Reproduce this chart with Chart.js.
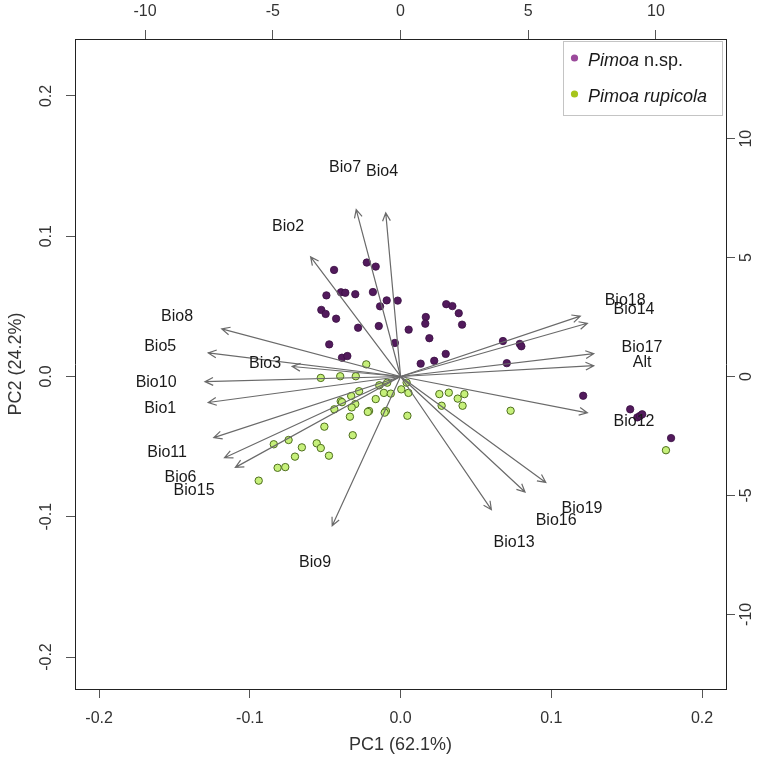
<!DOCTYPE html>
<html>
<head>
<meta charset="utf-8">
<script src="https://cdn.jsdelivr.net/npm/chart.js@4.4.1/dist/chart.umd.min.js"></script>
<style>
  html, body { margin: 0; padding: 0; background: #fff; }
  #wrap { width: 763px; height: 766px; }
</style>
</head>
<body>
<div id="wrap"><canvas id="biplot"></canvas></div>
<script>
// variable loadings (label positions, PC1 / PC2 scale)
const varNames = ['Bio7', 'Bio4', 'Bio2', 'Bio8', 'Bio5', 'Bio3', 'Bio10', 'Bio1', 'Bio11', 'Bio6', 'Bio15',
  'Bio9', 'Bio13', 'Bio16', 'Bio19', 'Bio12', 'Alt', 'Bio17', 'Bio14', 'Bio18'];
const loadX = [-0.0368, -0.0123, -0.0746, -0.1483, -0.1595, -0.0899, -0.1622, -0.1595, -0.1549, -0.1460, -0.1370,
  -0.0567, 0.0753, 0.1032, 0.1204, 0.1549, 0.1602, 0.1602, 0.1549, 0.1490];
const loadY = [0.1487, 0.1458, 0.1066, 0.0424, 0.0210, 0.0089, -0.0046, -0.0232, -0.0545, -0.0724, -0.0810,
  -0.1330, -0.1187, -0.1030, -0.0944, -0.0324, 0.0096, 0.0203, 0.0474, 0.0538];

// individual scores (top / right scale)
const nspX = [-2.60, -1.32, -0.97, -2.90, -2.33, -2.16, -1.77, -1.08, -0.54, -0.11, -0.80, -3.10, -2.93, -2.52,
  -1.66, -0.85, 0.32, 1.79, 2.03, 2.28, 2.41, 0.99, 0.97, 1.13, -0.22, -2.79, -2.29, -2.08, 0.79, 1.32, 1.77,
  4.01, 4.67, 4.73, 4.16, 7.15, 8.99, 9.27, 9.37, 9.46, 10.59];
const nspY = [4.48, 4.79, 4.62, 3.41, 3.54, 3.52, 3.46, 3.55, 3.20, 3.19, 2.95, 2.80, 2.63, 2.43,
  2.05, 2.12, 1.97, 3.04, 2.96, 2.66, 2.18, 2.50, 2.22, 1.61, 1.41, 1.35, 0.79, 0.86, 0.54, 0.66, 0.95,
  1.49, 1.37, 1.27, 0.56, -0.81, -1.38, -1.72, -1.66, -1.59, -2.59];
const rupX = [-1.34, -3.12, -2.36, -1.75, -0.83, -0.52, 0.24, -1.62, -1.93, -0.65, -0.38, 0.31, 0.03, 1.52, 1.89,
  2.50, 2.24, 1.61, 2.43, 4.31, -2.34, -2.29, -1.77, -1.91, -0.97, -2.59, -1.23, -1.28, -0.57, -0.62, -1.98,
  0.27, -2.98, -1.87, -4.96, -4.38, -3.86, -3.28, -3.12, -2.80, -4.13, -4.81, -4.51, -5.55, 10.39];
const rupY = [0.51, -0.06, 0.01, 0.01, -0.37, -0.26, -0.26, -0.62, -0.82, -0.69, -0.72, -0.69, -0.54, -0.74, -0.68,
  -0.74, -0.93, -1.23, -1.23, -1.44, -1.04, -1.08, -1.16, -1.30, -0.95, -1.38, -1.45, -1.49, -1.45, -1.52, -1.69,
  -1.65, -2.11, -2.47, -2.85, -2.67, -2.98, -2.81, -3.01, -3.33, -3.37, -3.84, -3.81, -4.38, -3.10];

const pcTicks = [-0.2, -0.1, 0.0, 0.1, 0.2];
const scoreTicks = [-10, -5, 0, 5, 10];

const FONT = '"Liberation Sans", Arial, sans-serif';

const toPoints = (xs, ys) => xs.map((x, i) => ({ x, y: ys[i] }));

const axis = (pos, min, max, ticks, size) => ({
  type: 'linear',
  position: pos,
  min, max,
  afterBuildTicks: (s) => { s.ticks = ticks.map(v => ({ value: v })); },
  afterFit: (s) => { if (s.isHorizontal()) s.height = size; else s.width = size; },
  grid: { drawOnChartArea: false, drawTicks: true, tickLength: 9, tickColor: '#555', lineWidth: 1 },
  border: { display: true, color: '#222', width: 1 },
  ticks: { display: false }
});

// tick labels, titles, arrows and legend
const biplotDecor = {
  id: 'biplotDecor',
  afterDatasetsDraw(chart) {
    const { ctx, chartArea: a, scales } = chart;
    const sx = scales.x, sy = scales.y;
    ctx.save();

    // arrows (drawn to 0.8 of the label position, as in R biplot)
    ctx.strokeStyle = '#6a6a6a';
    ctx.lineWidth = 1.2;
    const x0 = sx.getPixelForValue(0), y0 = sy.getPixelForValue(0);
    varNames.forEach((n, i) => {
      const x1 = sx.getPixelForValue(loadX[i] * 0.8), y1 = sy.getPixelForValue(loadY[i] * 0.8);
      const ang = Math.atan2(y1 - y0, x1 - x0);
      const len = 9, spread = Math.PI / 7;
      ctx.beginPath();
      ctx.moveTo(x0, y0);
      ctx.lineTo(x1, y1);
      ctx.moveTo(x1 - len * Math.cos(ang - spread), y1 - len * Math.sin(ang - spread));
      ctx.lineTo(x1, y1);
      ctx.lineTo(x1 - len * Math.cos(ang + spread), y1 - len * Math.sin(ang + spread));
      ctx.stroke();
    });

    // variable labels
    ctx.fillStyle = '#1a1a1a';
    ctx.font = '16px ' + FONT;
    ctx.textAlign = 'center';
    ctx.textBaseline = 'middle';
    varNames.forEach((n, i) => {
      ctx.fillText(n, sx.getPixelForValue(loadX[i]), sy.getPixelForValue(loadY[i]));
    });

    // tick labels
    ctx.fillStyle = '#333';
    ctx.font = '16px ' + FONT;
    const fmt = v => v.toFixed(1);
    pcTicks.forEach(v => {
      ctx.fillText(fmt(v), sx.getPixelForValue(v), a.bottom + 30);
    });
    scoreTicks.forEach(v => {
      ctx.fillText(String(v), scales.x2.getPixelForValue(v), a.top - 27);
    });
    const vText = (t, x, y) => {
      ctx.save();
      ctx.translate(x, y);
      ctx.rotate(-Math.PI / 2);
      ctx.fillText(t, 0, 0);
      ctx.restore();
    };
    pcTicks.forEach(v => vText(fmt(v), a.left - 28, sy.getPixelForValue(v)));
    scoreTicks.forEach(v => vText(String(v), a.right + 21, scales.y2.getPixelForValue(v)));

    // axis titles
    ctx.font = '18px ' + FONT;
    ctx.fillText('PC1 (62.1%)', (a.left + a.right) / 2, 745);
    vText('PC2 (24.2%)', 16, (a.top + a.bottom) / 2);

    // legend
    ctx.fillStyle = '#fff';
    ctx.fillRect(563, 41, 160, 75);
    ctx.strokeStyle = '#c4c4c4';
    ctx.lineWidth = 1;
    ctx.strokeRect(563.5, 41.5, 159, 74);
    const entry = (col, y, italic, rest) => {
      ctx.fillStyle = col;
      ctx.beginPath();
      ctx.arc(574.5, y - 3, 3.6, 0, Math.PI * 2);
      ctx.fill();
      ctx.fillStyle = '#1a1a1a';
      ctx.textAlign = 'left';
      ctx.font = 'italic 18px ' + FONT;
      ctx.fillText(italic, 588, y);
      const w = ctx.measureText(italic).width;
      ctx.font = '18px ' + FONT;
      ctx.fillText(rest, 588 + w, y);
    };
    entry('#9b4a9b', 61, 'Pimoa', ' n.sp.');
    entry('#a6c51b', 97, 'Pimoa rupicola', '');

    ctx.restore();
  }
};

new Chart(document.getElementById('biplot'), {
  type: 'scatter',
  data: {
    datasets: [{
      label: 'Pimoa n.sp.',
      data: toPoints(nspX, nspY),
      xAxisID: 'x2',
      yAxisID: 'y2',
      backgroundColor: '#521a5c',
      borderColor: '#3a0f42',
      borderWidth: 0.8,
      pointRadius: 3.7,
    }, {
      label: 'Pimoa rupicola',
      data: toPoints(rupX, rupY),
      xAxisID: 'x2',
      yAxisID: 'y2',
      backgroundColor: '#c6f07a',
      borderColor: '#4e6e1e',
      borderWidth: 1,
      pointRadius: 3.7,
    }]
  },
  options: {
    responsive: true,
    maintainAspectRatio: false,
    animation: false,
    layout: { padding: 0 },
    scales: {
      x: axis('bottom', -0.216, 0.2159, pcTicks, 77),
      y: axis('left', -0.2228, 0.2406, pcTicks, 75),
      x2: axis('top', -12.74, 12.74, scoreTicks, 39),
      y2: axis('right', -13.14, 14.19, scoreTicks, 37),
    },
    plugins: {
      legend: { display: false },
      tooltip: { enabled: false }
    }
  },
  plugins: [biplotDecor]
});
</script>
</body>
</html>
